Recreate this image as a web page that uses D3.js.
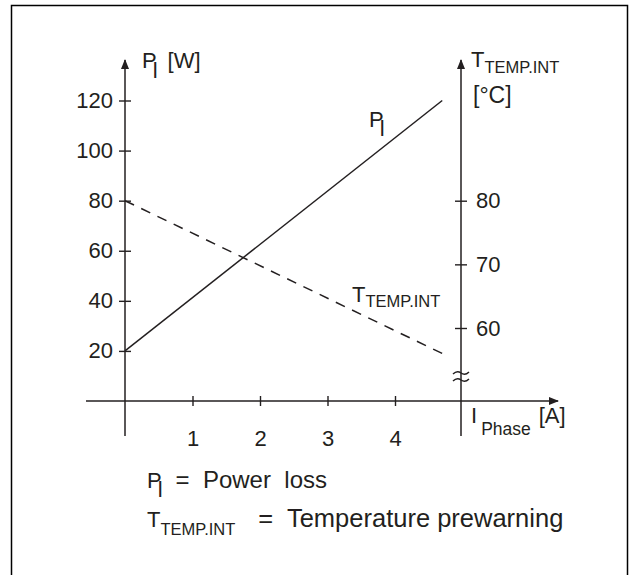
<!DOCTYPE html>
<html lang="en">
<head>
  <meta charset="utf-8">
  <title>Power loss / temperature prewarning</title>
  <script src="https://d3js.org/d3.v7.min.js"></script>
  <style>
    body {
      margin: 0;
      background: #fff;
    }
    svg text {
      font-family: "Liberation Sans", Arial, sans-serif;
      fill: #231f20;
      white-space: pre;
    }
    .axis line {
      stroke: #231f20;
      stroke-width: 1.4;
    }
    .axis path.domain {
      display: none;
    }
  </style>
</head>
<body>
<svg id="chart" width="631" height="575"></svg>

<script>
  // values
  const currentA = [0, 4.7];          // I Phase [A]
  const powerLossW = [20, 120];       // P_l [W]
  const tempC = [80, 56];             // T_TEMP.INT [°C]
  const xTicks = [1, 2, 3, 4];
  const leftTicks = [20, 40, 60, 80, 100, 120];
  const rightTicks = [60, 70, 80];

  const ink = "#231f20";
  const svg = d3.select("#chart");

  // cadre
  svg.append("rect")
    .attr("x", 11.5).attr("y", 5.5)
    .attr("width", 616).attr("height", 620)
    .attr("fill", "none").attr("stroke", "#000").attr("stroke-width", 1.5);

  // échelles
  const x = d3.scaleLinear().domain([0, 5]).range([125, 462.5]);
  const y = d3.scaleLinear().domain([0, 120]).range([401, 100.5]);
  const yT = d3.scaleLinear().domain([60, 80]).range([328, 200.7]);

  const axisX0 = x(0), axisX1 = 461, axisY0 = y(0);

  // flèches
  const defs = svg.append("defs");
  defs.append("marker")
    .attr("id", "arrow")
    .attr("viewBox", "0 0 10 10")
    .attr("refX", 9).attr("refY", 5)
    .attr("markerWidth", 10).attr("markerHeight", 10)
    .attr("markerUnits", "userSpaceOnUse")
    .attr("orient", "auto")
    .append("path")
    .attr("d", "M0,1 L10,5 L0,9 Z")
    .attr("fill", ink);

  // lignes d'axes
  const axisLine = (x1, y1, x2, y2) => svg.append("line")
    .attr("x1", x1).attr("y1", y1).attr("x2", x2).attr("y2", y2)
    .attr("stroke", ink).attr("stroke-width", 1.5)
    .attr("marker-end", "url(#arrow)");

  axisLine(axisX0, 436, axisX0, 60);
  axisLine(axisX1, 436, axisX1, 60);
  axisLine(86, axisY0, 558, axisY0);

  // graduations
  const left = svg.append("g")
    .attr("class", "axis")
    .attr("transform", `translate(${axisX0 + 6},0)`)
    .call(d3.axisLeft(y).tickValues(leftTicks).tickSize(12).tickPadding(6));

  const right = svg.append("g")
    .attr("class", "axis")
    .attr("transform", `translate(${axisX1 - 6},0)`)
    .call(d3.axisRight(yT).tickValues(rightTicks).tickSize(12).tickPadding(9));

  const bottom = svg.append("g")
    .attr("class", "axis")
    .attr("transform", `translate(0,${axisY0 - 5})`)
    .call(d3.axisBottom(x).tickValues(xTicks).tickFormat(d3.format("d"))
      .tickSize(10).tickPadding(24));

  [left, right, bottom].forEach(g => {
    g.attr("font-size", null).attr("font-family", null);
    g.selectAll("text").style("font-size", "22px").attr("fill", ink);
  });

  // coupure de l'axe droit
  [373, 380].forEach(yy => {
    svg.append("path")
      .attr("d", `M${axisX1 - 8},${yy + 1} q4,-4 8,-1 t8,-1`)
      .attr("fill", "none").attr("stroke", ink).attr("stroke-width", 1.4);
  });

  // courbes
  const pts = currentA.map((a, i) => ({ a: a, p: powerLossW[i], t: tempC[i] }));

  svg.append("path")
    .datum(pts)
    .attr("d", d3.line().x(d => x(d.a)).y(d => y(d.p)))
    .attr("fill", "none").attr("stroke", ink).attr("stroke-width", 1.5);

  svg.append("path")
    .datum(pts)
    .attr("d", d3.line().x(d => x(d.a)).y(d => yT(d.t)))
    .attr("fill", "none").attr("stroke", ink).attr("stroke-width", 1.5)
    .attr("stroke-dasharray", "10,8");

  // textes
  function label(xx, yy, main, sub, subDx, subDy, after, afterDx, subSize, afterSize) {
    const t = svg.append("text")
      .attr("x", xx).attr("y", yy)
      .style("font-size", "22px")
      .text(main);
    if (sub) {
      t.append("tspan")
        .attr("dx", subDx).attr("dy", subDy)
        .style("font-size", subSize || (sub === "l" ? "22px" : "16.5px"))
        .text(sub);
    }
    if (after) {
      t.append("tspan")
        .attr("dx", afterDx).attr("dy", sub ? -subDy : 0)
        .style("font-size", afterSize || "22px")
        .text(after);
    }
    return t;
  }

  label(142, 68, "P", "l", -4, 10, "[W]", 10);
  label(471, 67, "T", "TEMP.INT", 0, 6);
  label(473, 103, "[°C]").style("font-size", "23px");
  label(369, 127, "P", "l", -4, 9);
  label(352, 302, "T", "TEMP.INT", 0, 5);
  label(471, 423, "I", "Phase", 4, 12, "[A]", 8, "17.5px");

  label(147, 488, "P", "l", -4, 9, "=  Power  loss", 13, null, "24px");
  label(147, 527, "T", "TEMP.INT", 0, 8, "=  Temperature prewarning", 23, null, "25.5px");
</script>
</body>
</html>
